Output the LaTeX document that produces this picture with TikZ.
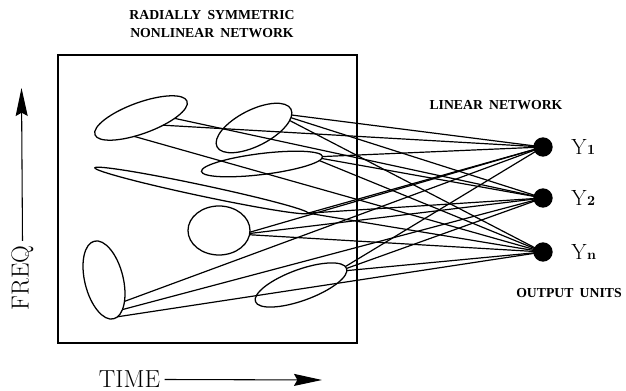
\documentclass[tikz,border=0pt]{standalone}
\usepackage{fontspec}
\newfontfamily\lblfont{Liberation Serif}
\usetikzlibrary{arrows.meta}
\tikzset{
  thinline/.style={line width=0.95pt},
  conn/.style={line width=0.9pt},
  outunit/.style={circle,fill=black,draw=none,inner sep=0pt,minimum size=14.5pt},
  smalllbl/.style={font=\lblfont\bfseries\fontsize{10.3}{12}\selectfont,inner sep=0pt},
  axislbl/.style={font=\fontsize{18.5}{18.5}\selectfont},
  ylbl/.style={font=\fontsize{16.5}{16.5}\selectfont,inner sep=0pt,anchor=base west},
  axisarrow/.style={line width=0.8pt,-{Stealth[length=21pt,width=9pt,inset=2.5pt]}}
}
\newcommand{\subdig}[1]{{\bfseries\fontsize{10.5}{10.5}\selectfont\hspace{0.5pt}#1}}
\begin{document}
\begin{tikzpicture}[x=0.75pt,y=-0.75pt]
\useasboundingbox (0,0) rectangle (626,391);

% box
\draw[thinline] (58,55) rectangle (357,343);

% ellipses (receptive fields) with named attachment points
\begin{scope}[shift={(141,118)},rotate=20]
  \draw[thinline] (0,0) ellipse [x radius=49, y radius=15.5];
  \coordinate (e1a) at ({49*cos(68)},{15.5*sin(68)});
  \coordinate (e1b) at ({49*cos(50)},{15.5*sin(50)});
  \coordinate (e1c) at ({49*cos(105)},{15.5*sin(105)});
\end{scope}
\begin{scope}[shift={(254,128)},rotate=27]
  \draw[thinline] (0,0) ellipse [x radius=41.5, y radius=18];
  \coordinate (e2a) at ({41.5*cos(18)},{18*sin(18)});
  \coordinate (e2b) at ({41.5*cos(25)},{18*sin(25)});
  \coordinate (e2c) at ({41.5*cos(32)},{18*sin(32)});
\end{scope}
\begin{scope}[shift={(262,164)},rotate=7]
  \draw[thinline] (0,0) ellipse [x radius=61, y radius=10.5];
  \coordinate (e3a) at ({61*cos(0)},{10.5*sin(0)});
  \coordinate (e3b) at ({61*cos(10)},{10.5*sin(10)});
  \coordinate (e3c) at ({61*cos(20)},{10.5*sin(20)});
\end{scope}
\begin{scope}[shift={(201.5,190.5)},rotate=-12]
  \draw[thinline] (0,0) ellipse [x radius=109, y radius=5.5];
  \coordinate (e4) at (109,0);
\end{scope}
\begin{scope}[shift={(219,230.5)}]
  \draw[thinline] (0,0) ellipse [x radius=31, y radius=24.5];
  \coordinate (e5a) at ({31*cos(4)},{24.5*sin(4)});
  \coordinate (e5b) at ({31*cos(7)},{24.5*sin(7)});
  \coordinate (e5c) at ({31*cos(10)},{24.5*sin(10)});
\end{scope}
\begin{scope}[shift={(104,280)},rotate=-76]
  \draw[thinline] (0,0) ellipse [x radius=40, y radius=19.2];
  \coordinate (e6a) at ({40*cos(-50)},{19.2*sin(-50)});
  \coordinate (e6b) at ({40*cos(-34)},{19.2*sin(-34)});
  \coordinate (e6c) at ({40*cos(-13)},{19.2*sin(-13)});
\end{scope}
\begin{scope}[shift={(301,285)},rotate=20]
  \draw[thinline] (0,0) ellipse [x radius=48.5, y radius=15.5];
  \coordinate (e7a) at ({48.5*cos(-8)},{15.5*sin(-8)});
  \coordinate (e7b) at ({48.5*cos(0)},{15.5*sin(0)});
  \coordinate (e7c) at ({48.5*cos(8)},{15.5*sin(8)});
\end{scope}

% output units
\node[outunit] (y1) at (543,147) {};
\node[outunit] (y2) at (543,198) {};
\node[outunit] (yn) at (543,252) {};

% connections
\draw[conn] (e1a) -- (y1.center);
\draw[conn] (e1b) -- (y2.center);
\draw[conn] (e1c) -- (yn.center);
\draw[conn] (e2a) -- (y1.center);
\draw[conn] (e2b) -- (y2.center);
\draw[conn] (e2c) -- (yn.center);
\draw[conn] (e3a) -- (y1.center);
\draw[conn] (e3b) -- (y2.center);
\draw[conn] (e3c) -- (yn.center);
\draw[conn] (e4) -- (y1.center);
\draw[conn] (e4) -- (y2.center);
\draw[conn] (e4) -- (yn.center);
\draw[conn] (e5a) -- (y1.center);
\draw[conn] (e5b) -- (y2.center);
\draw[conn] (e5c) -- (yn.center);
\draw[conn] (e6a) -- (y1.center);
\draw[conn] (e6b) -- (y2.center);
\draw[conn] (e6c) -- (yn.center);
\draw[conn] (e7a) -- (y1.center);
\draw[conn] (e7b) -- (y2.center);
\draw[conn] (e7c) -- (yn.center);

% output labels
\node[ylbl] (ly1) at (571,155) {Y\subdig{1}};
\node[ylbl] (ly2) at (571,206) {Y\subdig{2}};
\node[ylbl] (lyn) at (571,260) {Y\subdig{n}};

% text labels
\node[smalllbl] (t1) at (212,15) {RADIALLY\hspace{0.45em}SYMMETRIC};
\node[smalllbl] (t2) at (212,33) {NONLINEAR\hspace{0.45em}NETWORK};
\node[smalllbl] (lin) at (496,105) {LINEAR\hspace{0.45em}NETWORK};
\node[smalllbl] (out) at (569,293) {OUTPUT\hspace{0.45em}UNITS};

% axes
\node[axislbl,rotate=90] (freq) at (22.5,278) {FREQ};
\coordinate (freqtip) at (21.5,88);
\draw[axisarrow] (freq.east) -- (freqtip);
\node[axislbl] (time) at (129.5,379.5) {TIME};
\coordinate (timetip) at (322,380);
\draw[axisarrow] (time.east) -- (timetip);
\end{tikzpicture}
\end{document}
